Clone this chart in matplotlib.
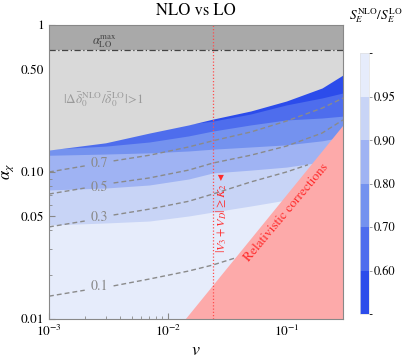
import numpy as np
import matplotlib
matplotlib.use('Agg')
import matplotlib.pyplot as plt
from matplotlib.colors import ListedColormap, BoundaryNorm
from matplotlib import ticker
import matplotlib.colorbar as mcolorbar

plt.rcParams['font.family'] = ['STIXGeneral', 'DejaVu Serif']
plt.rcParams['mathtext.fontset'] = 'stix'

# ---------------- data ----------------
v_nodes = [0.001, 0.003, 0.007, 0.015, 0.024, 0.05, 0.1, 0.2, 0.3]
# boundary of |d delta NLO / delta LO| > 1 region
delta_bound = [0.141, 0.158, 0.184, 0.209, 0.229, 0.260, 0.304, 0.373, 0.457]
# contours of S_E^NLO / S_E^LO
s060 = [0.160, 0.173, 0.193, 0.212, 0.222, 0.248, 0.286, 0.319, 0.345]
s070 = [0.143, 0.150, 0.160, 0.176, 0.190, 0.209, 0.226, 0.233, 0.240]
s080 = [0.130, 0.1325, 0.135, 0.139, 0.143, 0.148, 0.153, 0.163, 0.173]
s090 = [0.0755, 0.0778, 0.0816, 0.0896, 0.0985, 0.103, 0.108, 0.117, 0.1245]
s095 = [0.0436, 0.0450, 0.0464, 0.0502, 0.0534, 0.0587, 0.0645, 0.0731, 0.0778]
band_levels = [0.95, 0.90, 0.80, 0.70, 0.60]

# dashed contours (label gap between 2nd and 3rd node)
v_lines = [0.001, 0.002, 0.0035, 0.007, 0.015, 0.024, 0.05, 0.1, 0.2, 0.3]
c07 = [0.100, 0.110, 0.119, 0.130, 0.148, 0.163, 0.187, 0.222, 0.272, 0.318]
c05 = [0.0708, 0.0778, 0.0842, 0.0911, 0.103, 0.115, 0.130, 0.150, 0.184, 0.226]
v_c03 = [0.001, 0.002, 0.0035, 0.007, 0.015, 0.024, 0.05, 0.1, 0.152]
c03 = [0.0423, 0.0464, 0.0510, 0.0559, 0.0632, 0.0708, 0.0855, 0.100, 0.112]
v_c01 = [0.001, 0.002, 0.0035, 0.007, 0.015, 0.024, 0.037]
c01 = [0.0143, 0.0157, 0.0168, 0.0187, 0.0212, 0.0233, 0.0260]
line_labels = ['0.7', '0.5', '0.3', '0.1']
label_v = 0.00264
label_alpha = [0.115, 0.0792, 0.0494, 0.0166]

alpha_max = 0.676
v_line = 0.024
v_rel = [0.0140, 0.3]
alpha_rel = [0.01, 0.209]

cb_bounds = [0.5, 0.6, 0.7, 0.8, 0.9, 0.95, 1.0]
cb_ticks = [0.6, 0.7, 0.8, 0.9, 0.95]
cb_ticklabels = ['0.60', '0.70', '0.80', '0.90', '0.95']
band_colors_low_to_high = ['#2c4ceb', '#4e6ded', '#7492ef', '#9fb3f3', '#c8d4f6', '#e6ecfb']

y_ticks = [0.01, 0.05, 0.10, 0.50, 1.0]
y_ticklabels = ['0.01', '0.05', '0.10', '0.50', '1']

# ---------------- figure ----------------
fig = plt.figure(figsize=(4.03, 3.61), dpi=100)
ax = fig.add_axes([49/403, 1-319/361, 294/403, 294/361])
ax.set_xscale('log')
ax.set_yscale('log')
ax.set_xlim(1e-3, 0.3)
ax.set_ylim(0.01, 1.0)

ax.set_facecolor(band_colors_low_to_high[-1])
high_to_low = band_colors_low_to_high[::-1]
for curve, col in zip([s095, s090, s080, s070, s060], high_to_low[1:]):
    ax.fill_between(v_nodes, curve, 1.0, color=col, lw=0, zorder=1)

ax.fill_between(v_nodes, delta_bound, 1.0, color='#d9d9d9', lw=0, zorder=2)
ax.fill_between([1e-3, 0.3], alpha_max, 1.0, color='#a9a9a9', lw=0, zorder=2)
ax.axhline(alpha_max, color='#444444', lw=0.9, ls=(0, (5, 2, 1, 2)), zorder=3)

dash = dict(color='#8a8a8a', lw=1.0, ls=(0, (3.5, 2.2)), zorder=3)
for vv, cc in [(v_lines, c07), (v_lines, c05), (v_c03, c03), (v_c01, c01)]:
    ax.plot(vv[:2], cc[:2], **dash)
    ax.plot(vv[2:], cc[2:], **dash)
for lab, a in zip(line_labels, label_alpha):
    ax.text(label_v, a, lab, color='#8a8a8a', fontsize=10, ha='center', va='center', zorder=4)

ax.fill_between(v_rel, 0.01, alpha_rel, color='#fdaaaa', lw=0, zorder=5)
ax.axvline(v_line, color='#ff4d4d', lw=0.9, ls=(0, (1, 1.6)), zorder=6)

ax.text(0.0029, 0.766, r'$\alpha_{\rm LO}^{\rm max}$', color='#444444', fontsize=9,
        ha='center', va='center', zorder=6)
ax.text(0.0029, 0.309, r'$|\Delta\bar{\delta}_0^{\rm NLO}/\bar{\delta}_0^{\rm LO}|\!>\!1$',
        color='#9a9a9a', fontsize=9.5, ha='center', va='center', zorder=6)
ax.text(0.0284, 0.0526, r'$|V_3+V_D|\geq K_2$' + ' \u25C2', color='#ff2a2a', fontsize=8.8,
        family=['DejaVu Sans'], rotation=90, ha='center', va='center', zorder=6)
ax.text(0.100, 0.0530, 'Relativistic corrections', color='#ff2a2a', fontsize=9.6,
        rotation=50, ha='center', va='center', rotation_mode='anchor', zorder=6)

ax.yaxis.set_major_locator(ticker.FixedLocator(y_ticks))
ax.yaxis.set_major_formatter(ticker.FixedFormatter(y_ticklabels))
ax.yaxis.set_minor_locator(ticker.LogLocator(base=10, subs=np.arange(2, 10)))
ax.yaxis.set_minor_formatter(ticker.NullFormatter())
ax.xaxis.set_major_locator(ticker.LogLocator(base=10, numticks=10))
ax.xaxis.set_minor_locator(ticker.LogLocator(base=10, subs=np.arange(2, 10), numticks=10))
ax.xaxis.set_minor_formatter(ticker.NullFormatter())

ax.tick_params(which='both', direction='in', color='#888888', labelsize=9.5)
ax.tick_params(which='major', length=4, width=0.8)
ax.tick_params(which='minor', length=2.2, width=0.6)
for s in ax.spines.values():
    s.set_color('#888888')
    s.set_linewidth(0.8)
    s.set_zorder(7)

ax.set_title('NLO vs LO', fontsize=12, pad=7)
ax.set_xlabel(r'$v$', fontsize=13, labelpad=3)
ax.set_ylabel(r'$\alpha_\chi$', fontsize=12)
ax.yaxis.set_label_coords(-0.112, 0.5)

# colorbar
cax = fig.add_axes([360/403, 1-314/361, 9/403, 261/361])
cmap = ListedColormap(band_colors_low_to_high)
norm = BoundaryNorm(cb_bounds, cmap.N)
cb = mcolorbar.ColorbarBase(cax, cmap=cmap, norm=norm, boundaries=cb_bounds,
                            spacing='uniform', ticks=cb_ticks)
cb.set_ticklabels(cb_ticklabels)
cb.outline.set_edgecolor('#e0e0e0')
cb.outline.set_linewidth(0.5)
cax.tick_params(direction='out', length=2.5, width=0.6, color='#888888', labelsize=9, pad=1)
fig.text(376/403, 1-16/361, r'$S_E^{\rm NLO}/S_E^{\rm LO}$', fontsize=9.5, ha='center', va='center')

fig.savefig('out.png', dpi=100)
